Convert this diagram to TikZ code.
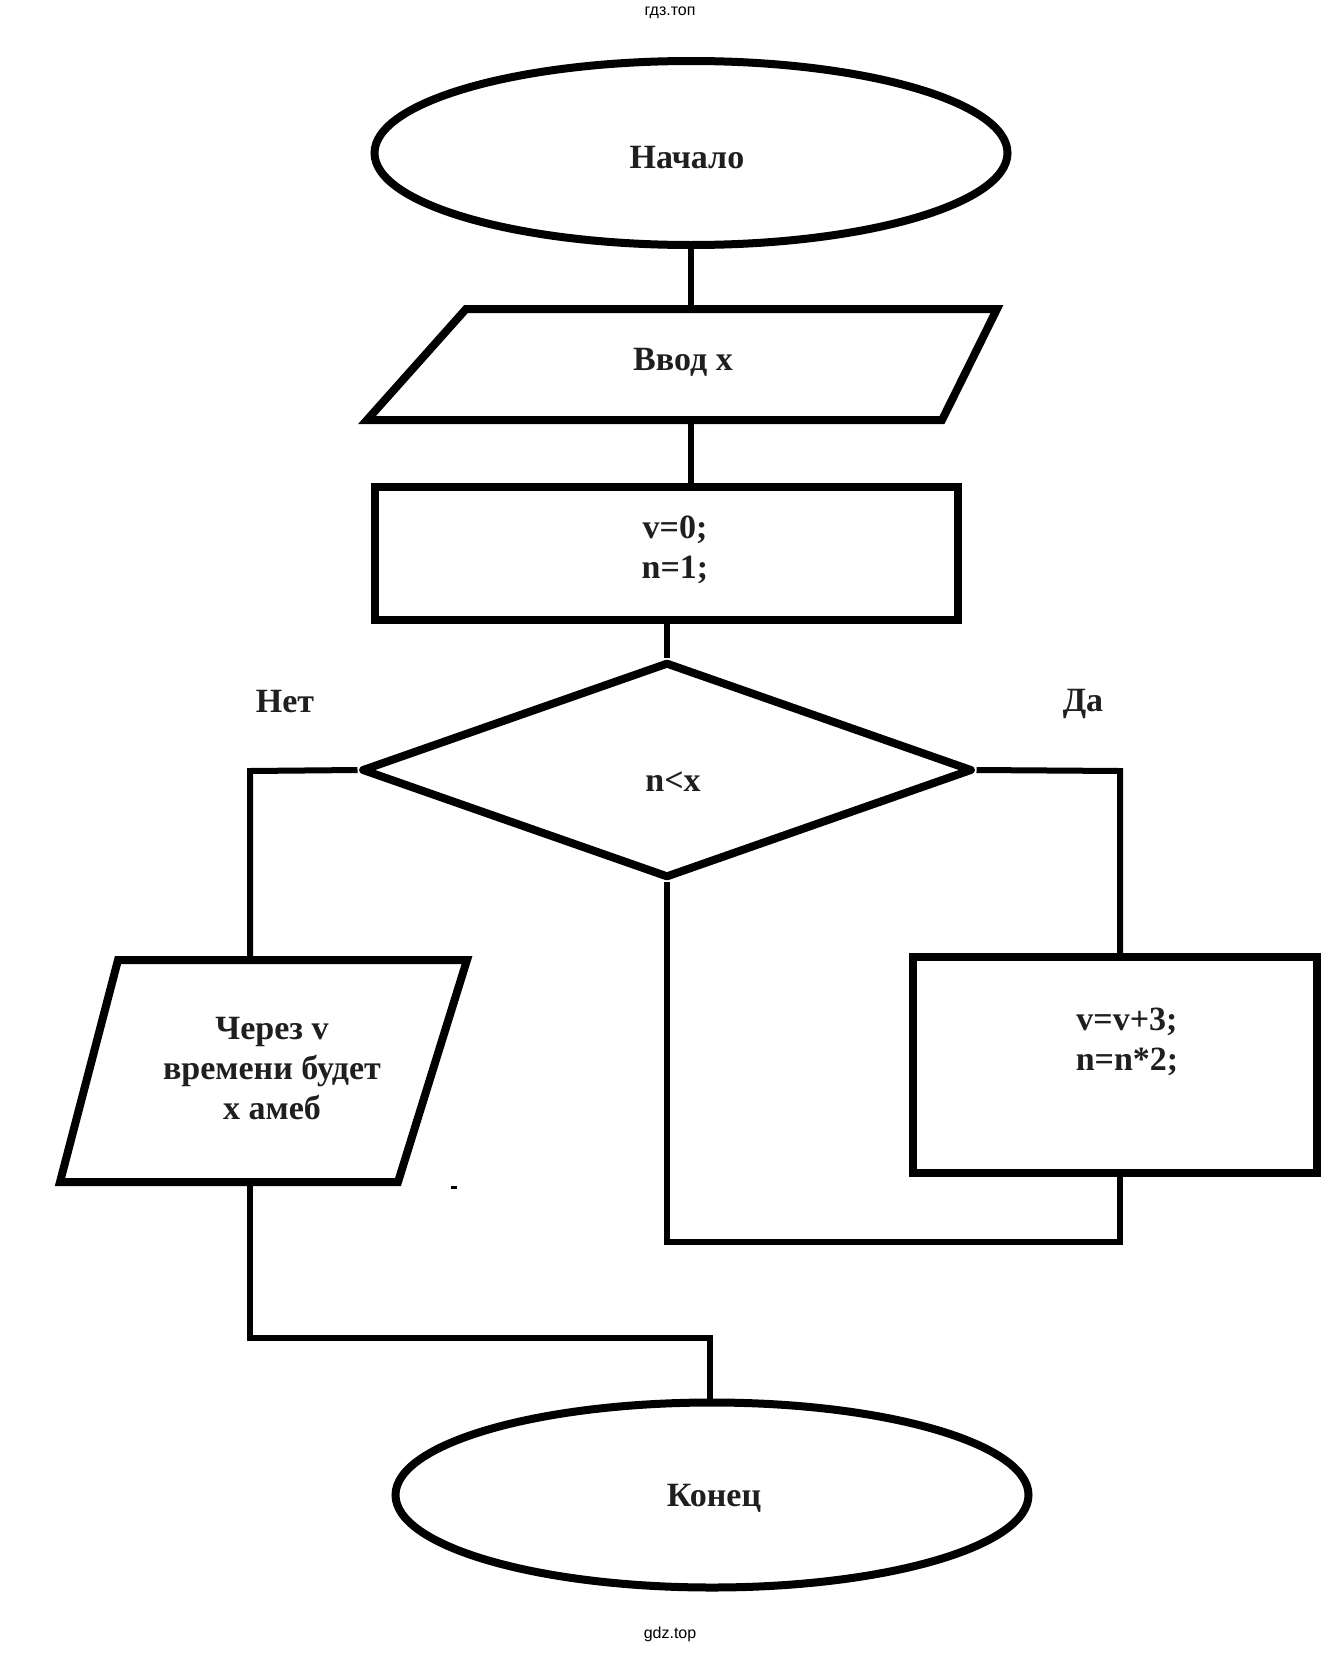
\documentclass[tikz,border=0pt]{standalone}
\usepackage{fontspec}
\setmainfont{Liberation Serif}
\newfontfamily\wmfont{Liberation Sans}
\usetikzlibrary{shapes.geometric}
\begin{document}
\begin{tikzpicture}[x=1pt,y=-1pt,
  shp/.style={draw=black, line width=8pt, line join=miter},
  conn/.style={draw=black, line width=6pt},
  lbl/.style={font=\fontsize{34}{40}\selectfont\bfseries, text=black!88, align=center, inner sep=0pt},
  wm/.style={font=\wmfont\fontsize{16}{18}\selectfont, text=black, inner sep=0pt}]
\useasboundingbox[fill=white] (0,0) rectangle (1342,1654);

% watermarks
\node[wm] (wmtop) at (670,13) {гдз.топ};
\node[wm] (wmbot) at (670,1634) {gdz.top};

% start
\node[shp, ellipse, minimum width=633pt, minimum height=184pt, inner sep=0pt] (start) at (691,153) {};
\node[lbl] (starttxt) at (687,158) {Начало};

% input
\coordinate (inTL) at (466,309);
\coordinate (inTR) at (997,309);
\coordinate (inBR) at (942,420);
\coordinate (inBL) at (367,420);
\draw[shp] (inTL) -- (inTR) -- (inBR) -- (inBL) -- cycle;
\node[lbl] (input) at (683,362) {Ввод x};
\coordinate (inB) at (691,420);
\draw[conn] (start.south) -- (start.south |- inTL);

% init
\node[shp, rectangle, minimum width=583pt, minimum height=133pt, inner sep=0pt] (init) at (666,553.5) {};
\node[lbl] (inittxt) at (675,550) {v=0;\\n=1;};
\draw[conn] (inB) -- (inB |- init.north);

% condition
\node[shp, diamond, line join=round, minimum width=611pt, minimum height=216pt, inner sep=0pt] (cond) at (667,770) {};
\node[lbl] (condtxt) at (673,782) {n<x};
\draw[conn] (cond.north |- init.south) -- (cond.north);

\node[lbl] (no) at (285,702) {Нет};
\node[lbl] (yes) at (1083,704) {Да};

% update
\node[shp, rectangle, minimum width=404pt, minimum height=216pt, inner sep=0pt] (upd) at (1114.6,1065) {};
\node[lbl] (updtxt) at (1127,1042) {v=v+3;\\n=n*2;};
\coordinate (rturn) at (1120,771);
\draw[conn] (cond.east) -- (rturn) -- (rturn |- upd.north);
\coordinate (lp) at (1120,1242);
\draw[conn] (lp |- upd.south) -- (lp) -- (lp -| cond.south) -- (cond.south);

% output
\coordinate (outTL) at (118,960);
\coordinate (outTR) at (467,960);
\coordinate (outBR) at (398,1182);
\coordinate (outBL) at (60,1182);
\draw[shp] (outTL) -- (outTR) -- (outBR) -- (outBL) -- cycle;
\node[lbl] (output) at (272,1069) {Через v\\времени будет\\x амеб};
\coordinate (lturn) at (250,771);
\draw[conn] (cond.west) -- (lturn) -- (lturn |- outTL);
\fill[black] (451,1186) rectangle (457,1189);

% end
\node[shp, ellipse, minimum width=633pt, minimum height=185pt, inner sep=0pt] (finish) at (712,1495) {};
\node[lbl] (finishtxt) at (714,1498) {Конец};
\coordinate (ljoin) at (250,1338);
\coordinate (rjoin) at (710,1338);
\draw[conn] (ljoin |- outBL) -- (ljoin) -- (rjoin) -- (finish.north -| rjoin);
\end{tikzpicture}
\end{document}
